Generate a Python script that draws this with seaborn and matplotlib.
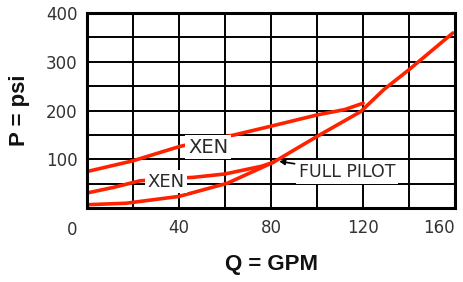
import matplotlib
matplotlib.use("Agg")
import matplotlib.pyplot as plt
import seaborn as sns

# curves (Q in GPM, P in psi)
pilot_q = [0, 17, 40, 61, 81, 100, 119, 129, 140, 159]
pilot_p = [7, 10, 24, 51, 94, 147, 198, 243, 284, 359]

xen_hi_q = [0, 20, 40, 52, 64, 80, 100, 112, 120]
xen_hi_p = [75, 97, 126, 139, 150, 168, 191, 202, 215]

xen_lo_q = [0, 12, 23, 34, 46, 60, 69, 76, 81]
xen_lo_p = [31, 43, 56, 60, 63, 70, 79, 86, 94]

x_ticks = [0, 20, 40, 60, 80, 100, 120, 140, 160]
x_labels = ["0", "", "40", "", "80", "", "120", "", "160"]
y_ticks = [0, 50, 100, 150, 200, 250, 300, 350, 400]
y_labels = ["", "", "100", "", "200", "", "300", "", "400"]

sns.set_style("white")
plt.rcParams["font.family"] = ["DejaVu Sans"]

red = "#ff2200"
ink = "#2a2a2a"
fig, ax = plt.subplots(figsize=(4.64, 2.82), dpi=100)
fig.subplots_adjust(left=0.1875, right=0.981, top=0.954, bottom=0.262)

for q, p in [(pilot_q, pilot_p), (xen_hi_q, xen_hi_p), (xen_lo_q, xen_lo_p)]:
    sns.lineplot(x=q, y=p, ax=ax, color=red, linewidth=2.6, sort=False,
                 estimator=None)

ax.set_xlim(0, 160)
ax.set_ylim(0, 400)
ax.set_xticks(x_ticks)
ax.set_xticklabels(x_labels)
ax.set_yticks(y_ticks)
ax.set_yticklabels(y_labels)
ax.tick_params(length=0, labelsize=12, labelcolor="#333333")
ax.tick_params(axis="x", pad=8)
ax.tick_params(axis="y", pad=7)
xl = ax.get_xticklabels()
xl[0].set_visible(False)
xl[-1].set_horizontalalignment("right")
# origin "0" sits below-left of the corner
ax.annotate("0", xy=(0, 0), xytext=(-11, -9), textcoords="offset points",
            ha="center", va="top", fontsize=12, color="#333333")

ax.grid(True, color="black", linewidth=1.4)
ax.set_axisbelow(True)
for s in ax.spines.values():
    s.set_color("black")
    s.set_linewidth(2.2)

ax.set_xlabel("Q = GPM", fontsize=16, fontweight="bold", labelpad=12,
              family="Liberation Sans", color="#111111")
ax.set_ylabel("P = psi", fontsize=16, fontweight="bold", labelpad=11,
              family="Liberation Sans", color="#111111")

box = dict(facecolor="white", edgecolor="none", pad=2)
ax.text(52.6, 125, "XEN", fontsize=14, ha="center", va="center", color=ink,
        bbox=box, zorder=5)
ax.text(34.3, 54, "XEN", fontsize=13, ha="center", va="center", color=ink,
        bbox=box, zorder=5)
ax.annotate("FULL PILOT", xy=(83.5, 96), xytext=(113, 74), fontsize=12.5,
            ha="center", va="center", color=ink, bbox=box, zorder=5,
            arrowprops=dict(arrowstyle="-|>", color="black", lw=1.2,
                            shrinkA=1, shrinkB=0, mutation_scale=8))

fig.savefig("out.png", dpi=100)
